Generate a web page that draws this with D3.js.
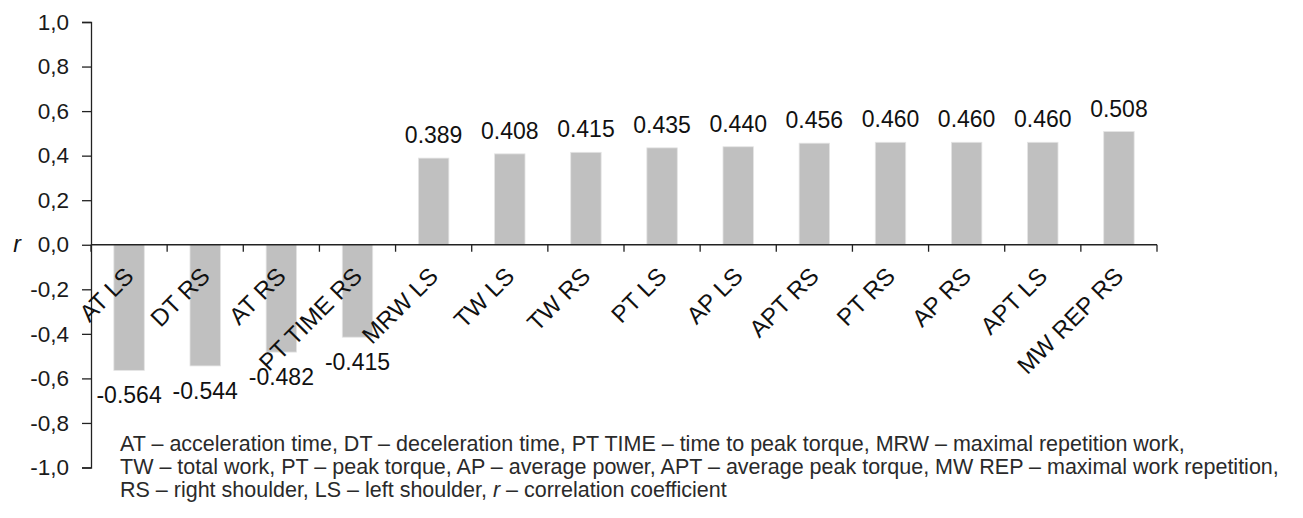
<!DOCTYPE html>
<html><head><meta charset="utf-8">
<script src="https://cdn.jsdelivr.net/npm/d3@7"></script>
<style>
html,body{margin:0;padding:0;background:#fff;}
svg text{font-family:"Liberation Sans",Arial,Helvetica,sans-serif;}
</style></head>
<body>
<svg id="chart" width="1303" height="518"></svg>
<script>
const categories = ["AT LS","DT RS","AT RS","PT TIME RS","MRW LS","TW LS","TW RS","PT LS","AP LS","APT RS","PT RS","AP RS","APT LS","MW REP RS"];
const values = [-0.564,-0.544,-0.482,-0.415,0.389,0.408,0.415,0.435,0.440,0.456,0.460,0.460,0.460,0.508];
const valueLabels = ["-0.564","-0.544","-0.482","-0.415","0.389","0.408","0.415","0.435","0.440","0.456","0.460","0.460","0.460","0.508"];
const yTicks = [-1.0,-0.8,-0.6,-0.4,-0.2,0.0,0.2,0.4,0.6,0.8,1.0];
const footnote = [
  "AT \u2013 acceleration time, DT \u2013 deceleration time, PT TIME \u2013 time to peak torque, MRW \u2013 maximal repetition work,",
  "TW \u2013 total work, PT \u2013 peak torque, AP \u2013 average power, APT \u2013 average peak torque, MW REP \u2013 maximal work repetition,",
  "RS \u2013 right shoulder, LS \u2013 left shoulder, "
];

const svg = d3.select("#chart");
const mLeft = 91, mRight = 1157, mTop = 22, mBottom = 467.5;

const y = d3.scaleLinear().domain([-1, 1]).range([mBottom, mTop]);
const xb = d3.scaleBand().domain(categories).range([mLeft, mRight]).padding(0);
const step = xb.step();
const bw = step * 0.4;

// bars
svg.append("g").selectAll("rect").data(values).join("rect")
  .attr("x", (d,i) => xb(categories[i]) + (step - bw)/2)
  .attr("width", bw)
  .attr("y", d => y(Math.max(0, d)))
  .attr("height", d => Math.abs(y(d) - y(0)))
  .attr("fill", "#c0c0c0")
  .attr("stroke", "#e4e4e4")
  .attr("stroke-width", 0.8);

// y axis
const yAxis = d3.axisLeft(y).tickValues(yTicks)
  .tickFormat(d => d3.format(".1f")(d).replace(".", ",").replace("\u2212","-"))
  .tickSize(9).tickPadding(13);
const gy = svg.append("g").attr("transform", `translate(${mLeft},0)`).call(yAxis);
gy.select(".domain").attr("stroke", "#222").attr("stroke-width", 1.3);
gy.selectAll(".tick line").attr("stroke", "#222").attr("stroke-width", 1.3);
gy.selectAll(".tick text").attr("font-size", 22.5).attr("fill", "#1a1a1a")
  .attr("font-family", "'Liberation Sans',Arial,sans-serif");

// x axis at zero with ticks at band boundaries
const boundaries = categories.map(c => xb(c)).concat([mRight]);
const gx = svg.append("g");
gx.append("line").attr("x1", mLeft).attr("x2", mRight).attr("y1", y(0)).attr("y2", y(0))
  .attr("stroke", "#222").attr("stroke-width", 1.3);
gx.selectAll("line.t").data(boundaries).join("line").attr("class","t")
  .attr("x1", d => d).attr("x2", d => d)
  .attr("y1", y(0)).attr("y2", y(0) + 7)
  .attr("stroke", "#222").attr("stroke-width", 1.3);

// category labels
svg.append("g").selectAll("text").data(categories).join("text")
  .attr("transform", c => `translate(${xb(c) + step/2 + 6},${y(0) + 33}) rotate(-45)`)
  .attr("text-anchor", "end")
  .attr("font-size", 24)
  .attr("fill", "#111")
  .text(c => c);

// value labels
svg.append("g").selectAll("text").data(values).join("text")
  .attr("x", (d,i) => xb(categories[i]) + step/2)
  .attr("y", d => d >= 0 ? y(d) - 15 : y(d) + 33)
  .attr("text-anchor", "middle")
  .attr("font-size", 23)
  .attr("fill", "#111")
  .text((d,i) => valueLabels[i]);

// r label
svg.append("text").attr("x", 17).attr("y", y(0) + 7)
  .attr("font-size", 23).attr("font-style", "italic").attr("fill", "#111")
  .attr("text-anchor", "middle").text("r");

// footnote
const fn = svg.append("g").attr("font-size", 21.5).attr("fill", "#2a2a2a");
footnote.forEach((line, i) => {
  const t = fn.append("text").attr("x", 120).attr("y", 451 + i * 23).text(line);
  if (i === 2) {
    t.append("tspan").attr("font-style", "italic").text("r");
    t.append("tspan").text(" \u2013 correlation coefficient");
  }
});
</script>
</body></html>
